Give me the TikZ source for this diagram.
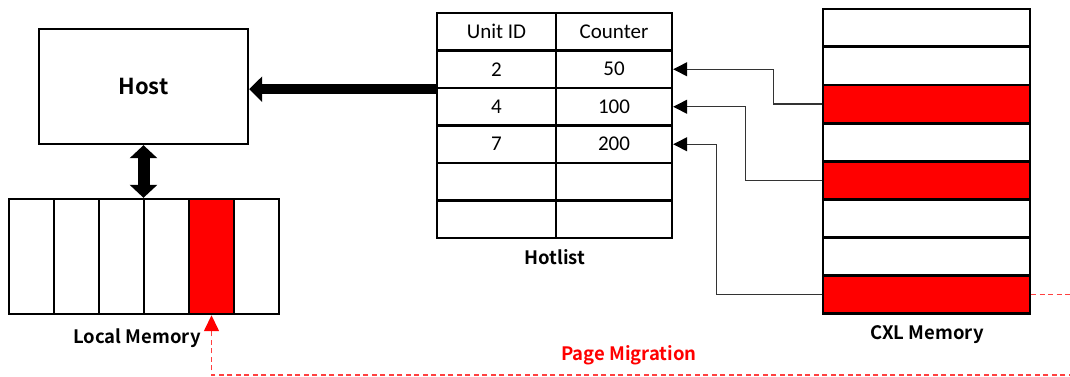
\documentclass[tikz,border=0pt]{standalone}
\usepackage{fontspec}
\setmainfont{Carlito}
\newfontfamily\labelfont{Noto Sans CJK KR}[BoldFont={Noto Sans CJK KR Bold}]
\usetikzlibrary{arrows.meta}
\definecolor{hot}{HTML}{FF0000}
\definecolor{migred}{HTML}{FF4040}
\definecolor{wire}{HTML}{333333}
\begin{document}
\begin{tikzpicture}[x=1pt,y=-1pt,
  box/.style={draw=black,line width=2.4pt,fill=white,inner sep=0pt},
  cell/.style={box,minimum width=45pt,minimum height=115pt},
  hcell/.style={cell,fill=hot},
  rowbox/.style={box,minimum width=207pt,minimum height=37.6pt},
  hrow/.style={rowbox,fill=hot},
  tcell/.style={box,minimum height=37.5pt,font=\fontsize{21}{23}\selectfont},
  tid/.style={tcell,minimum width=119pt},
  tcnt/.style={tcell,minimum width=116pt},
  title/.style={font=\labelfont\bfseries\fontsize{18.5}{21}\selectfont},
  fat/.style={line width=10pt,-{Triangle[length=13pt,width=25pt]}},
  fatboth/.style={line width=12pt,{Triangle[length=13pt,width=27pt]}-{Triangle[length=13pt,width=27pt]}},
  feed/.style={wire,line width=1.3pt,-{Triangle[length=14pt,width=14pt,color=black,fill=black]}},
  mig/.style={migred,line width=1.5pt,dash pattern=on 5pt off 3.5pt,-{Triangle[length=16pt,width=15pt,color=hot,fill=hot]}}]
\useasboundingbox (0,0) rectangle (1070,376);

% Host
\node[box,minimum width=209pt,minimum height=115pt,
      font=\labelfont\bfseries\fontsize{22}{24}\selectfont] (host) at (143.5,86.5) {Host};

% Local memory: six pages in a row
\foreach \i/\s in {1/cell,2/cell,3/cell,4/cell,5/hcell,6/cell}
  \node[\s] (lm\i) at ({9+22.5+45*(\i-1)},256.5) {};
\node[title] (lmlabel) at (137,338) {Local Memory};

% Hotlist table
\foreach \r/\a/\b in {1/Unit ID/Counter,2/2/50,3/4/100,4/7/200,5//,6//}{
  \node[tid]  (ta\r) at (496.5,{13+18.75+37.5*(\r-1)}) {\a};
  \node[tcnt] (tb\r) at (614,{13+18.75+37.5*(\r-1)}) {\b};
}
\node[title] (hotlabel) at (555,257) {Hotlist};

% CXL memory: eight pages stacked
\foreach \i/\s in {1/rowbox,2/rowbox,3/hrow,4/rowbox,5/hrow,6/rowbox,7/rowbox,8/hrow}
  \node[\s] (c\i) at (926.5,{9+18.8+38.1*(\i-1)}) {};
\node[title] (cxllabel) at (927,335) {CXL Memory};

% Hotlist report to the host
\draw[fat] (ta2.south west) -- (ta2.south west -| host.east);
% Host <-> local memory
\draw[fatboth] (host.south) -- (host.south |- lm1.north);

% Hot CXL pages feed the counters
\draw[feed] (c3.west) -- ++(-48,0) |- (tb2.east);
\draw[feed] (c5.west) -- ++(-76,0) |- (tb3.east);
\draw[feed] (c8.west) -- ++(-105,0) |- (tb4.east);

% Page migration from CXL memory to local memory
\coordinate (turn) at (1076,375);
\draw[mig] (c8.east) -| (turn) -| (lm5.south);
\node[title,text=hot] (miglabel) at (629,355) {Page Migration};
\end{tikzpicture}
\end{document}
